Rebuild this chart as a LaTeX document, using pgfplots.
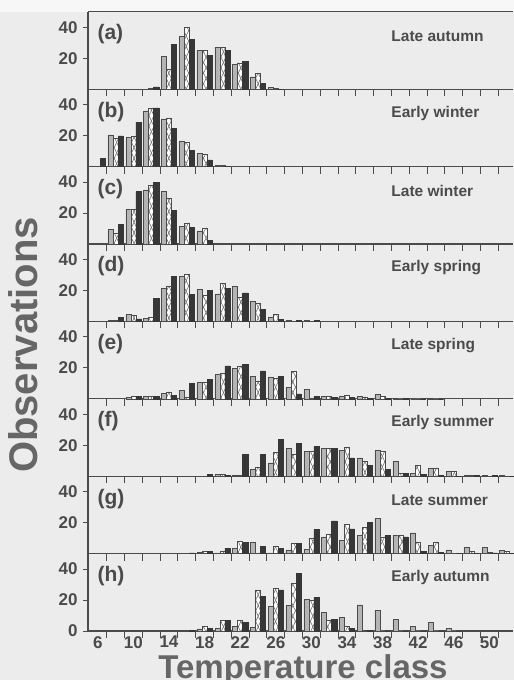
\documentclass[border=0pt]{standalone}
\usepackage{pgfplots}
\pgfplotsset{compat=1.18}
\usepackage{pgfplotstable}
\usepackage{fontspec}
\setmainfont{Liberation Sans}
\usetikzlibrary{patterns,patterns.meta,backgrounds}

\definecolor{bg}{RGB}{236,236,236}
\definecolor{ink}{RGB}{75,75,75}
\definecolor{lightbar}{RGB}{180,180,180}
\definecolor{darkbar}{RGB}{55,55,55}
\definecolor{hatch}{RGB}{110,110,110}

% columns: class, light bars, hatched bars, dark bars
\pgfplotstableread{
x L C D
12 0 0.5 1.5
14 21 13 29
16 34 40 32
18 25 25 22
20 27 27 25
22 16 17 18
24 8 10 4
26 1 0.5 0
}\tabA
\pgfplotstableread{
x L C D
6 0.5 0 5.5
8 20.5 18 19.8
10 18.7 19.6 28.7
12 36 38 38
14 30.8 31.5 24.5
16 16.6 15.7 10.6
18 8.5 7.9 4.3
20 0.8 0.8 0
}\tabB
\pgfplotstableread{
x L C D
8 9.5 6.7 12.8
10 22.6 22.6 33.9
12 35 37.8 39.8
14 33.9 29.8 21.5
16 11.5 13.7 10.7
18 8.5 10.4 2.4
}\tabC
\pgfplotstableread{
x L C D
8 0.5 0.8 2.4
10 4.7 3.7 1.7
12 2 2.6 14.9
14 21.3 22.8 28.9
16 28.9 30.6 17.5
18 20.7 16.8 19.8
20 17.7 24.6 21.3
22 22.4 15.5 18.5
24 12.7 11.6 7.8
26 3 4.5 1.5
28 0.5 0 0.5
30 0.5 0 0.5
}\tabD
\pgfplotstableread{
x L C D
10 1 1.5 1.5
12 1.5 1.5 1.5
14 3.5 4.5 2.4
16 5.6 1.3 9.9
18 10.6 10.6 12.5
20 15.7 16.4 21.3
22 19.6 21.3 22.4
24 14.7 11.6 18.1
26 14.2 13.1 14.7
28 7.3 17.5 3.2
30 6.3 0.5 1.5
32 1.5 1.5 1
34 1.5 2.5 0.8
36 1.5 1.2 0.5
38 3 1.5 0.5
40 0.5 0 0.5
42 0 0 0
44 0.5 0 0
}\tabE
\pgfplotstableread{
x L C D
18 0 0 1
20 1 1 0.5
22 0.8 0.8 14
24 4.6 5.7 14
26 8.6 15.2 24
28 18 14 21.3
30 15.8 15.8 19.1
32 17.8 17.8 17.8
34 16.9 18.9 11.9
36 11.9 9.7 6.8
38 16.7 15.8 4.6
40 9.7 2 2
42 2 6.8 1
44 5.3 5.3 0.5
46 3 3 0
48 0.5 0.5 0.5
50 0.5 0 0.5
52 0.5 0 0
}\tabF
\pgfplotstableread{
x L C D
16 0 0 0.5
18 1 1.5 1.5
20 0.5 1.3 3.5
22 3.5 7.9 7.2
24 7.2 0.5 4.6
26 0.5 4.6 3.5
28 2.4 6.8 6.8
30 2.8 9.9 15.6
32 10.8 12.3 21.1
34 8.4 18.9 16
36 11.6 16.7 20
38 22.9 10.8 11.9
40 11.9 11.9 10.8
42 13.4 7.5 1.3
44 5.3 7.5 0.8
46 2.4 0.5 0
48 4.2 1.5 0
50 4 1 0.5
52 2 1.5 0
}\tabG
\pgfplotstableread{
x L C D
16 0.5 0.5 0.5
18 1.3 2.8 1.7
20 1.7 6.7 6.7
22 2.8 6.7 5.8
24 2.4 26.5 22.6
26 15.7 27.5 26.5
28 16.6 30.8 37
30 20.4 19.6 21.7
32 11.8 7.1 7.7
34 8.8 2.8 1.7
36 16.8 0.5 0.5
38 13.5 0 0
40 7.5 0 0
42 2.8 0 0
44 5.6 0 0
46 1.7 0 0
}\tabH

\pgfplotsset{
  panel/.style={
    scale only axis, width=425.4pt, height=77.4pt,
    anchor=south west,
    xmin=4.9, xmax=52.7, ymin=0, ymax=50,
    axis lines*=left,
    axis line style={ink, line width=1.1pt},
    xtick={6,10,...,50}, xticklabels={},
    major x tick style={draw=none},
    minor xtick={7,9,...,51},
    minor x tick style={ink, line width=0.9pt},
    minor tick length=7pt, xtick align=center,
    ytick={20,40}, ytick align=outside, major tick length=5pt,
    major y tick style={ink, line width=0.9pt},
    /pgf/number format/assume math mode=true,
    ticklabel style={font=\fontsize{17}{17}\selectfont\bfseries, text=ink},
    xticklabel style={inner sep=0pt, anchor=north, yshift=0pt},
    yticklabel style={xshift=-2pt},
    ybar, bar width=0.57,
    clip=false,
  },
  lightb/.style={fill=lightbar, draw=ink, line width=0.5pt, bar shift=-0.57},
  crossb/.style={fill=white, draw=ink, line width=0.5pt, bar shift=0,
    postaction={pattern={Lines[angle=65,distance=4.5pt,line width=0.6pt]}, pattern color=hatch},
    postaction={pattern={Lines[angle=-65,distance=4.5pt,line width=0.6pt]}, pattern color=hatch}},
  darkb/.style={fill=darkbar, draw=darkbar, line width=0.5pt, bar shift=0.57},
}
\tikzset{
  plab/.style={anchor=west, font=\fontsize{21}{21}\selectfont\bfseries, text=ink},
  slab/.style={anchor=west, font=\fontsize{15.5}{15.5}\selectfont\bfseries, text=ink},
}

\newcommand{\bars}[1]{%
  \addplot[lightb] table[x=x,y=L]{#1};
  \addplot[crossb] table[x=x,y=C]{#1};
  \addplot[darkb] table[x=x,y=D]{#1};
}

\begin{document}
\begin{tikzpicture}
\begin{axis}[panel, at={(88pt,590.8pt)}]
\bars{\tabA}
\draw[ink, line width=1.1pt] (rel axis cs:0,1) -- (rel axis cs:1,1);
\node[plab, xshift=6pt] at (rel axis cs:0,0.71) {(a)};
\node[slab] at (rel axis cs:0.705,0.69) {Late autumn};
\end{axis}

\begin{axis}[panel, at={(88pt,513.4pt)}]
\bars{\tabB}
\node[plab, xshift=6pt] at (rel axis cs:0,0.71) {(b)};
\node[slab] at (rel axis cs:0.705,0.69) {Early winter};
\end{axis}

\begin{axis}[panel, at={(88pt,436pt)}]
\bars{\tabC}
\node[plab, xshift=6pt] at (rel axis cs:0,0.71) {(c)};
\node[slab] at (rel axis cs:0.705,0.69) {Late winter};
\end{axis}

\begin{axis}[panel, at={(88pt,358.6pt)}]
\bars{\tabD}
\node[plab, xshift=6pt] at (rel axis cs:0,0.71) {(d)};
\node[slab] at (rel axis cs:0.705,0.69) {Early spring};
\end{axis}

\begin{axis}[panel, at={(88pt,281.2pt)}]
\bars{\tabE}
\node[plab, xshift=6pt] at (rel axis cs:0,0.71) {(e)};
\node[slab] at (rel axis cs:0.705,0.69) {Late spring};
\end{axis}

\begin{axis}[panel, at={(88pt,203.8pt)}]
\bars{\tabF}
\node[plab, xshift=6pt] at (rel axis cs:0,0.71) {(f)};
\node[slab] at (rel axis cs:0.705,0.69) {Early summer};
\end{axis}

\begin{axis}[panel, at={(88pt,126.4pt)}]
\bars{\tabG}
\node[plab, xshift=6pt] at (rel axis cs:0,0.71) {(g)};
\node[slab] at (rel axis cs:0.705,0.69) {Late summer};
\end{axis}

\begin{axis}[panel, at={(88pt,49pt)}, ytick={0,20,40},
  xticklabels={6,10,14,18,22,26,30,34,38,42,46,50}]
\bars{\tabH}
\node[plab, xshift=6pt] at (rel axis cs:0,0.71) {(h)};
\node[slab] at (rel axis cs:0.705,0.69) {Early autumn};
\end{axis}

\node[rotate=90, font=\fontsize{40}{40}\selectfont\bfseries, text=ink!85] at (23pt,335pt) {Observations};
\node[anchor=base, inner sep=0pt, font=\fontsize{33}{33}\selectfont\bfseries, text=ink!85] at (303pt,1.5pt) {Temperature class};

\pgfresetboundingbox
\useasboundingbox (0,0) rectangle (514pt,680pt);
\begin{scope}[on background layer]
\fill[bg] (0,0) rectangle (514pt,680pt);
\fill[white!60!bg] (0,668.2pt) rectangle (514pt,680pt);
\end{scope}
\end{tikzpicture}
\end{document}
